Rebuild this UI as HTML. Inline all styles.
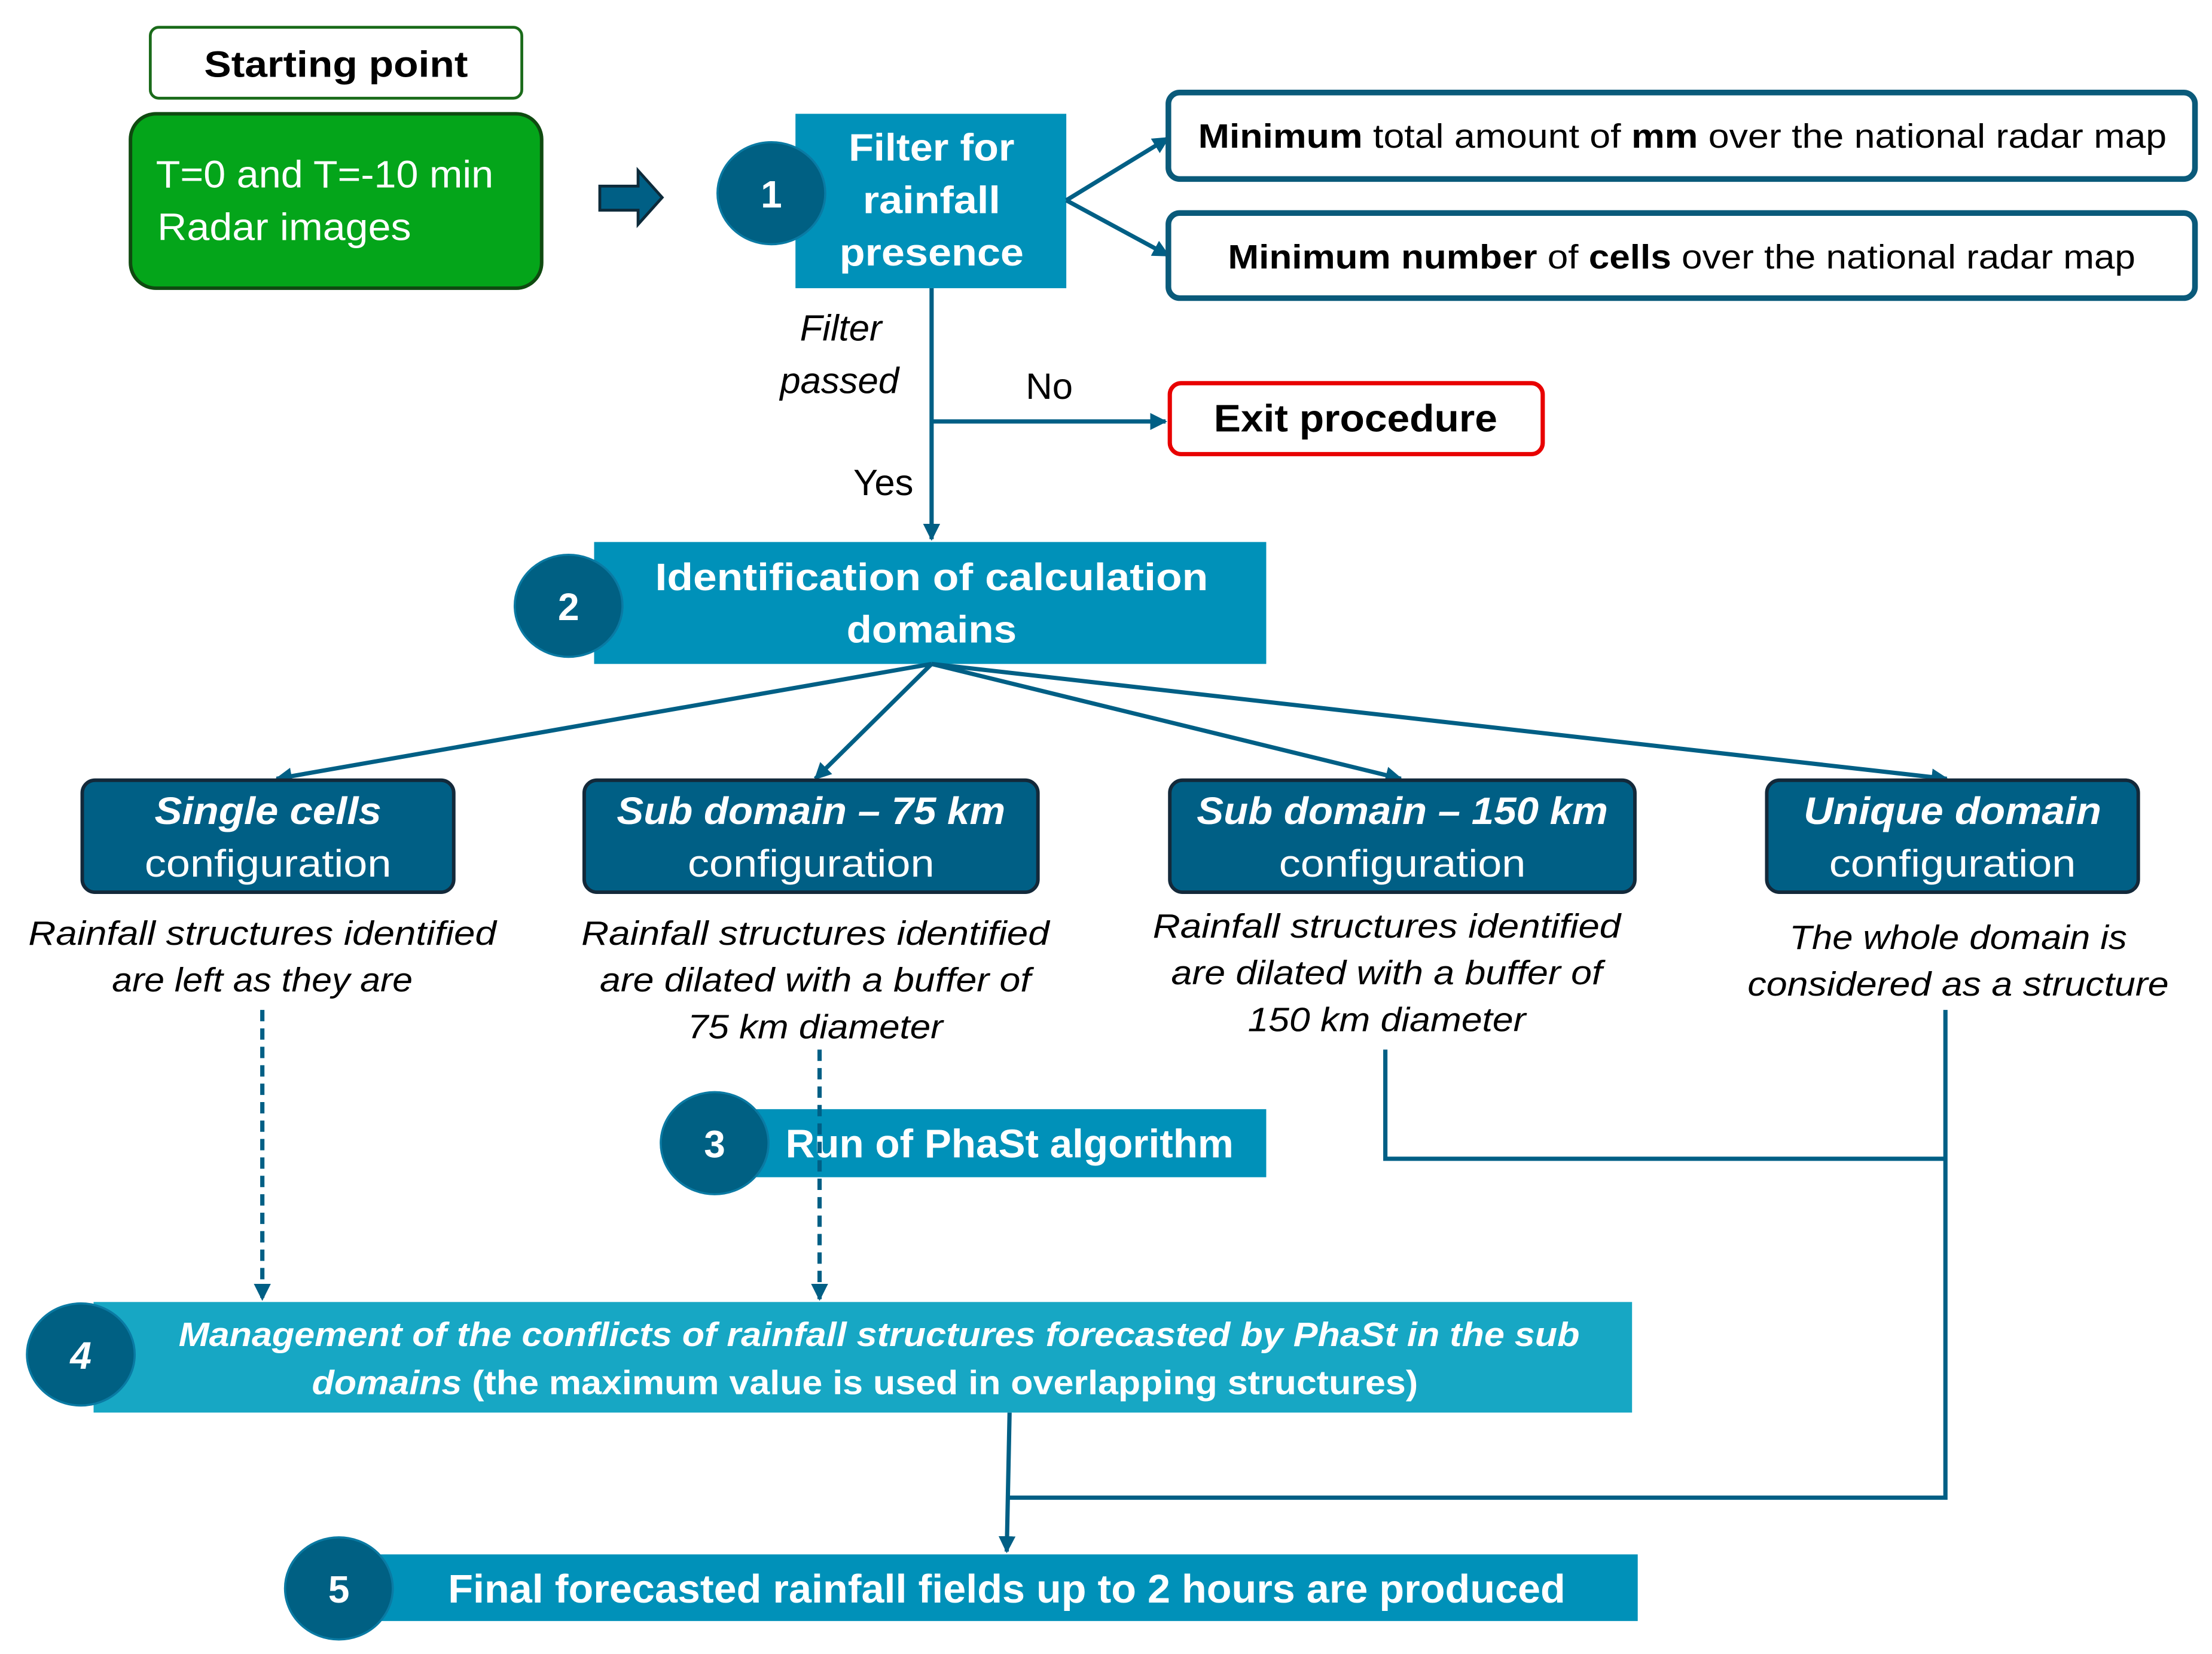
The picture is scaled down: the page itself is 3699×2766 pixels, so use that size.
<!DOCTYPE html>
<html><head><meta charset="utf-8"><style>html,body{margin:0;padding:0;background:#fff}svg{display:block}</style></head>
<body>
<svg width="3699" height="2766" viewBox="0 0 1560 1166" xmlns="http://www.w3.org/2000/svg" font-family="Liberation Sans, sans-serif">
<defs>
<marker id="ar" viewBox="0 0 10 10" refX="9" refY="5" markerWidth="4" markerHeight="4" orient="auto-start-reverse"><path d="M0,0 L10,5 L0,10 z" fill="#005f85"/></marker>
</defs>
<rect width="1560" height="1166" fill="#fff"/>
<!-- starting -->
<rect x="106" y="19" width="262" height="50" rx="6" fill="#fff" stroke="#1a6b1a" stroke-width="2"/>
<text x="237" y="54" font-size="26" font-weight="bold" text-anchor="middle" textLength="186" lengthAdjust="spacingAndGlyphs">Starting point</text>
<rect x="92" y="80" width="290" height="123" rx="18" fill="#04a51a" stroke="#0f4a10" stroke-width="2.5"/>
<text x="110" y="132" font-size="27" fill="#fff" textLength="238" lengthAdjust="spacingAndGlyphs">T=0 and T=-10 min</text>
<text x="111" y="169" font-size="27" fill="#fff" textLength="179" lengthAdjust="spacingAndGlyphs">Radar images</text>
<path d="M423,131 L450,131 L450,120 L467,139 L450,158 L450,148 L423,148 z" fill="#005f85" stroke="#0d2a3a" stroke-width="2"/>
<!-- filter -->
<rect x="561" y="80" width="191" height="123" fill="#0091b9"/>
<ellipse cx="544" cy="136" rx="38" ry="36" fill="#006083" stroke="#0a7aa3" stroke-width="1.5"/>
<text x="544" y="146" font-size="27" font-weight="bold" fill="#fff" text-anchor="middle">1</text>
<g font-size="27" font-weight="bold" fill="#fff" text-anchor="middle">
<text x="657" y="113" textLength="117" lengthAdjust="spacingAndGlyphs">Filter for</text>
<text x="657" y="150" textLength="97" lengthAdjust="spacingAndGlyphs">rainfall</text>
<text x="657" y="187" textLength="130" lengthAdjust="spacingAndGlyphs">presence</text>
</g>
<g stroke="#005f85" stroke-width="3" fill="none">
<line x1="752" y1="141" x2="824" y2="97" marker-end="url(#ar)"/>
<line x1="752" y1="141" x2="824" y2="180" marker-end="url(#ar)"/>
<line x1="657" y1="203" x2="657" y2="380" marker-end="url(#ar)"/>
<line x1="657" y1="297" x2="822" y2="297" marker-end="url(#ar)"/>
</g>
<rect x="824" y="65" width="724" height="61" rx="8" fill="#fff" stroke="#0a5a7a" stroke-width="4"/>
<text x="845" y="104" font-size="24" textLength="683" lengthAdjust="spacingAndGlyphs"><tspan font-weight="bold">Minimum</tspan> total amount of <tspan font-weight="bold">mm</tspan> over the national radar map</text>
<rect x="824" y="150" width="724" height="60" rx="8" fill="#fff" stroke="#0a5a7a" stroke-width="4"/>
<text x="866" y="189" font-size="24" textLength="640" lengthAdjust="spacingAndGlyphs"><tspan font-weight="bold">Minimum number</tspan> of <tspan font-weight="bold">cells</tspan> over the national radar map</text>
<g font-size="26" font-style="italic" text-anchor="middle">
<text x="593" y="240">Filter</text>
<text x="592" y="277">passed</text>
</g>
<text x="740" y="281" font-size="26" text-anchor="middle">No</text>
<text x="623" y="349" font-size="26" text-anchor="middle">Yes</text>
<rect x="825" y="270" width="263" height="50" rx="8" fill="#fff" stroke="#e80000" stroke-width="3"/>
<text x="956" y="304" font-size="27" font-weight="bold" text-anchor="middle" textLength="200" lengthAdjust="spacingAndGlyphs">Exit procedure</text>
<!-- box 2 -->
<rect x="419" y="382" width="474" height="86" fill="#0091b9"/>
<ellipse cx="401" cy="427" rx="38" ry="36" fill="#006083" stroke="#0a7aa3" stroke-width="1.5"/>
<text x="401" y="437" font-size="27" font-weight="bold" fill="#fff" text-anchor="middle">2</text>
<text x="657" y="416" font-size="27" font-weight="bold" fill="#fff" text-anchor="middle" textLength="390" lengthAdjust="spacingAndGlyphs">Identification of  calculation</text>
<text x="657" y="453" font-size="27" font-weight="bold" fill="#fff" text-anchor="middle" textLength="120" lengthAdjust="spacingAndGlyphs">domains</text>
<g stroke="#005f85" stroke-width="3" fill="none">
<line x1="657" y1="468" x2="195" y2="549" marker-end="url(#ar)"/>
<line x1="657" y1="468" x2="575" y2="549" marker-end="url(#ar)"/>
<line x1="657" y1="468" x2="988" y2="549" marker-end="url(#ar)"/>
<line x1="657" y1="468" x2="1373" y2="549" marker-end="url(#ar)"/>
</g>
<!-- config boxes -->
<g fill="#005f85" stroke="#13293a" stroke-width="2.5">
<rect x="58" y="550" width="262" height="79" rx="9"/>
<rect x="412" y="550" width="320" height="79" rx="9"/>
<rect x="825" y="550" width="328" height="79" rx="9"/>
<rect x="1246" y="550" width="262" height="79" rx="9"/>
</g>
<g fill="#fff" text-anchor="middle" font-size="27">
<text x="189" y="581" font-weight="bold" font-style="italic" textLength="160" lengthAdjust="spacingAndGlyphs">Single cells</text>
<text x="189" y="618" textLength="174" lengthAdjust="spacingAndGlyphs">configuration</text>
<text x="572" y="581" font-weight="bold" font-style="italic" textLength="274" lengthAdjust="spacingAndGlyphs">Sub domain – 75 km</text>
<text x="572" y="618" textLength="174" lengthAdjust="spacingAndGlyphs">configuration</text>
<text x="989" y="581" font-weight="bold" font-style="italic" textLength="290" lengthAdjust="spacingAndGlyphs">Sub domain – 150 km</text>
<text x="989" y="618" textLength="174" lengthAdjust="spacingAndGlyphs">configuration</text>
<text x="1377" y="581" font-weight="bold" font-style="italic" textLength="210" lengthAdjust="spacingAndGlyphs">Unique domain</text>
<text x="1377" y="618" textLength="174" lengthAdjust="spacingAndGlyphs">configuration</text>
</g>
<g font-size="24" font-style="italic" text-anchor="middle">
<text x="185" y="666" textLength="330" lengthAdjust="spacingAndGlyphs">Rainfall structures identified</text>
<text x="185" y="699" textLength="212" lengthAdjust="spacingAndGlyphs">are left as they are</text>
<text x="575" y="666" textLength="330" lengthAdjust="spacingAndGlyphs">Rainfall structures identified</text>
<text x="575" y="699" textLength="304" lengthAdjust="spacingAndGlyphs">are dilated with a buffer of</text>
<text x="575" y="732" textLength="180" lengthAdjust="spacingAndGlyphs">75 km diameter</text>
<text x="978" y="661" textLength="330" lengthAdjust="spacingAndGlyphs">Rainfall structures identified</text>
<text x="978" y="694" textLength="304" lengthAdjust="spacingAndGlyphs">are dilated with a buffer of</text>
<text x="978" y="727" textLength="196" lengthAdjust="spacingAndGlyphs">150 km diameter</text>
<text x="1381" y="669" textLength="238" lengthAdjust="spacingAndGlyphs">The whole domain is</text>
<text x="1381" y="702" textLength="297" lengthAdjust="spacingAndGlyphs">considered as a structure</text>
</g>
<!-- box 3 -->
<rect x="510" y="782" width="383" height="48" fill="#0091b9"/>
<ellipse cx="504" cy="806" rx="38" ry="36" fill="#006083" stroke="#0a7aa3" stroke-width="1.5"/>
<text x="504" y="816" font-size="27" font-weight="bold" fill="#fff" text-anchor="middle">3</text>
<text x="554" y="816" font-size="28" font-weight="bold" fill="#fff" textLength="316" lengthAdjust="spacingAndGlyphs">Run of PhaSt algorithm</text>
<g stroke="#005f85" stroke-width="3" fill="none">
<line x1="185" y1="712" x2="185" y2="916" stroke-dasharray="8,5" marker-end="url(#ar)"/>
<line x1="578" y1="740" x2="578" y2="916" stroke-dasharray="8,5" marker-end="url(#ar)"/>
<polyline points="977,740 977,817 1372,817"/>
<polyline points="1372,712 1372,1056 712,1056"/>
<line x1="712" y1="996" x2="710" y2="1094" marker-end="url(#ar)"/>
</g>
<!-- box 4 -->
<rect x="66" y="918" width="1085" height="78" fill="#17a7c4"/>
<ellipse cx="57" cy="955" rx="38" ry="36" fill="#006083" stroke="#0a7aa3" stroke-width="1.5"/>
<text x="57" y="965" font-size="27" font-weight="bold" font-style="italic" fill="#fff" text-anchor="middle">4</text>
<text x="620" y="949" font-size="24" font-weight="bold" font-style="italic" fill="#fff" text-anchor="middle" textLength="988" lengthAdjust="spacingAndGlyphs">Management of the conflicts of rainfall structures forecasted by PhaSt in the sub</text>
<text x="610" y="983" font-size="24" font-weight="bold" fill="#fff" text-anchor="middle" textLength="780" lengthAdjust="spacingAndGlyphs"><tspan font-style="italic">domains</tspan> (the maximum value is used in overlapping structures)</text>
<!-- box 5 -->
<rect x="262" y="1096" width="893" height="47" fill="#0091b9"/>
<ellipse cx="239" cy="1120" rx="38" ry="36" fill="#006083" stroke="#0a7aa3" stroke-width="1.5"/>
<text x="239" y="1130" font-size="27" font-weight="bold" fill="#fff" text-anchor="middle">5</text>
<text x="710" y="1130" font-size="28" font-weight="bold" fill="#fff" text-anchor="middle" textLength="788" lengthAdjust="spacingAndGlyphs">Final forecasted rainfall fields up to 2 hours are produced</text>
</svg>
</body></html>
